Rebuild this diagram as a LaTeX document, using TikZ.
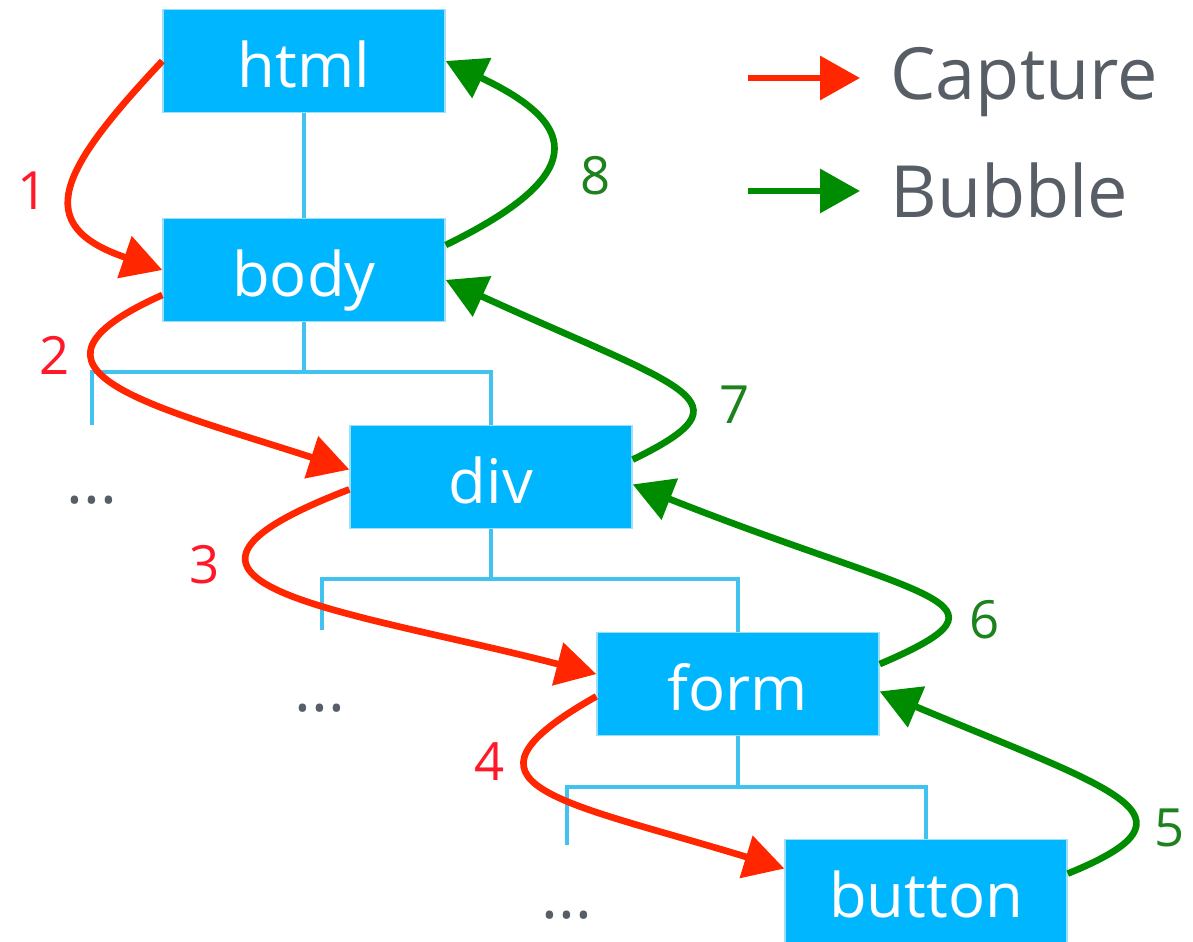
\documentclass[tikz,border=0pt]{standalone}
\usepackage{fontspec}
\setmainfont{Open Sans}
\usetikzlibrary{arrows.meta}
\definecolor{boxblue}{RGB}{0,183,255}
\definecolor{lineblue}{RGB}{66,194,238}
\definecolor{capred}{RGB}{255,38,0}
\definecolor{bubgreen}{RGB}{0,140,0}
\definecolor{numred}{RGB}{255,24,40}
\definecolor{numgreen}{RGB}{28,130,28}
\definecolor{keygray}{RGB}{88,94,102}

\tikzset{
  elem/.style={fill=boxblue, draw=lineblue!50, line width=0.8pt, minimum width=5.64cm,
    minimum height=2.06cm, inner sep=0pt, text=white, text height=30pt, text depth=0pt,
    font=\fontsize{35}{40}\selectfont},
  tree/.style={draw=lineblue, line width=2pt},
  capture/.style={draw=capred, line width=3.8pt, -{Triangle[length=0.8cm,width=0.86cm]}},
  bubble/.style={draw=bubgreen, line width=3.8pt, -{Triangle[length=0.8cm,width=0.86cm]}},
  capnum/.style={text=numred, font=\fontsize{30}{34}\selectfont},
  bubnum/.style={text=numgreen, font=\fontsize{30}{34}\selectfont},
  more/.style={text=keygray, inner sep=0pt, font=\fontsize{36}{40}\selectfont},
  key/.style={text=keygray, anchor=base west, inner xsep=0.6cm, font=\fontsize{41}{46}\selectfont}
}

\begin{document}
\begin{tikzpicture}[x=0.02cm, y=-0.02cm]
  \useasboundingbox (0,0) rectangle (1193,942);

  \node[elem] (html) at (304,61) {html};
  \node[elem] (body) at (304,270) {body};
  \node[elem] (div) at (491,477) {div};
  \node[elem] (form) at (738,684) {form};
  \node[elem] (button) at (926,891) {button};

  \coordinate (bodyleaf) at (92,425);
  \coordinate (divleaf) at (322,630);
  \coordinate (formleaf) at (567,845);
  \draw[tree] (html) -- (body);
  \draw[tree] (body.south) -- ++(0,50) -| (bodyleaf);
  \draw[tree] (body.south) ++(0,50) -| (div.north);
  \draw[tree] (div.south) -- ++(0,50) -| (divleaf);
  \draw[tree] (div.south) ++(0,50) -| (form.north);
  \draw[tree] (form.south) -- ++(0,51) -| (formleaf);
  \draw[tree] (form.south) ++(0,51) -| (button.north);

  \node[more] (more1) at (92,500) {...};
  \node[more] (more2) at (320,708) {...};
  \node[more] (more3) at (567,915) {...};

  \draw[capture] (html.west) .. controls (60,170) and (30,225) .. (body.west);
  \draw[capture] (body.190) .. controls (-5,370) and (150,405) .. (div.177);
  \draw[capture] (div.185) .. controls (100,585) and (350,610) .. (form.176);
  \draw[capture] (form.185) .. controls (438,786) and (560,800) .. (button.171);
  \draw[bubble] (button.7) .. controls (1212,815) and (1114,790) .. (form.357);
  \draw[bubble] (form.8) .. controls (1030,600) and (924,600) .. (div.357);
  \draw[bubble] (div.7) .. controls (755,400) and (687,390) .. (body.356);
  \draw[bubble] (body.10) .. controls (600,170) and (570,120) .. (html.east);

  \node[capnum] (n1) at (33,191) {1};
  \node[capnum] (n2) at (55,355) {2};
  \node[capnum] (n3) at (205,565) {3};
  \node[capnum] (n4) at (490,762) {4};
  \node[bubnum] (n5) at (1170,828) {5};
  \node[bubnum] (n6) at (985,620) {6};
  \node[bubnum] (n7) at (735,405) {7};
  \node[bubnum] (n8) at (596,176) {8};

  \node[key] (cap) at (860,100) {Capture};
  \node[key] (bub) at (860,218) {Bubble};
  \coordinate (capkey) at (748,78);
  \coordinate (bubkey) at (748,191);
  \draw[capture] (capkey) -- (capkey -| cap.west);
  \draw[bubble] (bubkey) -- (bubkey -| bub.west);
\end{tikzpicture}
\end{document}
